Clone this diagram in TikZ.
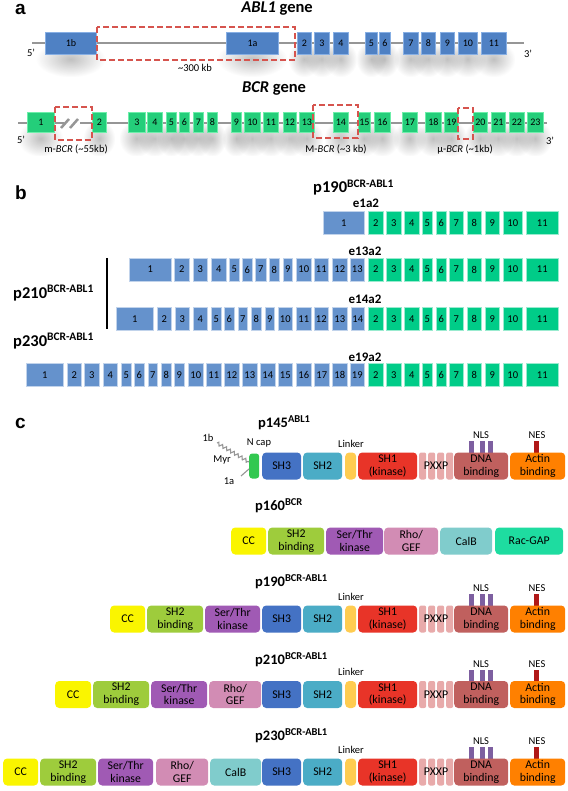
\documentclass[tikz,border=0pt]{standalone}
\usepackage{fontspec}
\setmainfont{Carlito}
\newfontfamily\arialf{Liberation Sans}
\usetikzlibrary{decorations.pathmorphing,fadings}
\tikzfading[name=softblob, inner color=transparent!0, outer color=transparent!100]
\definecolor{exblue}{RGB}{79,129,196}
\definecolor{exblueL}{RGB}{135,175,228}
\definecolor{exgreen}{RGB}{36,206,122}
\definecolor{exgreenL}{RGB}{110,238,170}
\definecolor{bblue}{RGB}{101,146,204}
\definecolor{bgreen}{RGB}{0,204,136}
\definecolor{dashred}{RGB}{214,84,78}
\definecolor{linegray}{RGB}{150,150,150}
\definecolor{ccc}{RGB}{250,245,0}
\definecolor{csh2b}{RGB}{158,204,60}
\definecolor{cser}{RGB}{160,90,180}
\definecolor{crho}{RGB}{210,140,180}
\definecolor{ccalb}{RGB}{128,204,204}
\definecolor{crac}{RGB}{30,220,160}
\definecolor{csh3}{RGB}{68,114,196}
\definecolor{csh2}{RGB}{75,172,198}
\definecolor{clink}{RGB}{255,204,80}
\definecolor{csh1}{RGB}{232,52,40}
\definecolor{cpxxp}{RGB}{232,170,170}
\definecolor{cdna}{RGB}{192,96,94}
\definecolor{cactin}{RGB}{255,128,0}
\definecolor{cnls}{RGB}{125,95,160}
\definecolor{cnes}{RGB}{176,24,24}
\definecolor{cncap}{RGB}{50,200,80}
\newcommand\fs[1]{\fontsize{#1}{#1}\selectfont}
\newcommand\pname[5]{{\fs{#3}#1}\raisebox{#5}{\fs{#4}#2}}
\newcommand\ex[6]{\pgfmathsetmacro\exw{#4-#3}\node[#1, minimum width=\exw pt] (#2) at (#3,#5) {#6};}
\newcommand\gshad[3]{%
 \fill[black!70, opacity=0.35, path fading=softblob] (#1-9,#3-2) rectangle (#2+9,#3+34);}
\newcommand\dm[6]{\pgfmathsetmacro\dmw{#3-#2}\node[dom, fill=#5, minimum width=\dmw pt] (#1) at (#2,#4) {#6};}
\newcommand\bgreenrow[2]{\foreach \n/\a/\b in {2/368/383,3/386/401,4/404/419,5/422/432,6/436/446,7/449/463,8/467/481,9/485/499,10/503/522,11/526/558}{\ex{bexg}{#1g\n}{\a}{\b}{#2}{\n}}}
\newcommand\ablpart[2]{%
 \fill[cnls] (469,#2-25) rectangle (474,#2-12);
 \fill[cnls] (480,#2-25) rectangle (485,#2-12);
 \fill[cnls] (487.5,#2-25) rectangle (492.5,#2-12);
 \fill[cnes] (534.3,#2-25) rectangle (539.3,#2-12);
 \dm{#1sh3}{262}{301}{#2}{csh3}{SH3}
 \dm{#1sh2}{303}{342}{#2}{csh2}{SH2}
 \dm{#1lnk}{345}{356}{#2}{clink}{}
 \dm{#1sh1}{358}{417}{#2}{csh1}{SH1\\(kinase)}
 \node[dom, rounded corners=2pt, fill=cpxxp, minimum width=7pt] (#1pa) at (419,#2) {};
 \node[dom, rounded corners=2pt, fill=cpxxp, minimum width=7pt] (#1pb) at (428,#2) {};
 \node[dom, rounded corners=2pt, fill=cpxxp, minimum width=7pt] (#1pc) at (437,#2) {};
 \node[dom, rounded corners=2pt, fill=cpxxp, minimum width=7pt] (#1pd) at (446,#2) {};
 \node[dtext] (#1pxxp) at (436,#2) {PXXP};
 \dm{#1dna}{454}{508}{#2}{cdna}{DNA\\binding}
 \dm{#1act}{510}{565}{#2}{cactin}{Actin\\binding}
 \node[dlabel] (#1lbllinker) at (351,#2-22.5) {Linker};
 \node[dlabel] (#1lblnls) at (481,#2-30.5) {NLS};
 \node[dlabel] (#1lblnes) at (537,#2-30.5) {NES};
}
\tikzset{
 panel/.style={font=\arialf\bfseries\fs{19}, anchor=base west, inner sep=0},
 gtitle/.style={font=\bfseries\fs{16.5}, anchor=base, inner sep=0},
 gline/.style={draw=linegray, line width=2.8pt},
 gexa/.style={draw=exblueL, line width=0.9pt, fill=exblue, inner sep=0pt, minimum height=22pt, anchor=west, font=\fs{10}},
 gexb/.style={draw=exgreenL, line width=0.9pt, fill=exgreen, inner sep=0pt, minimum height=20pt, anchor=west, font=\fs{10}},
 redbox/.style={draw=dashred, line width=2.2pt, dash pattern=on 6pt off 3pt},
 small/.style={font=\fs{10.5}, inner sep=0, anchor=base},
 prot/.style={font=\bfseries, anchor=base west, inner sep=0},
 bex/.style={fill=bblue, draw=white!60!bblue, line width=0.5pt, inner sep=0, minimum height=23pt, anchor=west, font=\fs{10.5}},
 bexg/.style={bex, fill=bgreen, draw=white!60!bgreen},
 junc/.style={font=\bfseries\fs{13}, anchor=base, inner sep=0},
 dom/.style={rounded corners=4pt, inner sep=0, minimum height=27pt, anchor=west, align=center, font=\fontsize{11.8}{12.8}\selectfont},
 dtext/.style={inner sep=0, font=\fs{11.8}},
 dlabel/.style={font=\fs{10.5}, inner sep=0},
}
\begin{document}
\begin{tikzpicture}[x=1pt,y=-1pt]
\useasboundingbox (0,0) rectangle (567,791);
\fill[white] (0,0) rectangle (567,791);
% ---------------- panel a
\node[panel] (pa) at (15,15) {a};
\node[gtitle] (abltitle) at (277,12.5) {\textit{ABL1} gene};
\foreach \a/\b in {45/96,226/278,297/311,314/329,333/348,365/377,379/390,403/418,421/435,440/454,458/477,481/506}{\gshad{\a}{\b}{43}}
\foreach \a/\b in {27/54,92/106,128/145,147/162,166/176,179/189,193/203,207/217,231/241,244/260,263/278,283/296,299/314,333/348,358/370,374/390,402/417,425/441,444/458,473/487,491/505,509/524,527/543}{\gshad{\a}{\b}{122.5}}
\coordinate (ablL) at (32,43);
\coordinate (ablR) at (524,43);
\draw[gline] (ablL) -- (ablR);
\foreach \n/\a/\b in {1b/45/96,1a/226/278,2/297/311,3/314/329,4/333/348,5/365/377,6/379/390,7/403/418,8/421/435,9/440/454,10/458/477,11/481/506}{\ex{gexa}{abl\n}{\a}{\b}{43}{\n}}
\draw[redbox] (97,27) rectangle (295,60);
\node[small] (abl5) at (31,57) {5'};
\node[small] (abl3) at (528,58) {3'};
\node[small] (kb300) at (195,72) {\textasciitilde300 kb};
\node[gtitle] (bcrtitle) at (274,93) {\textit{BCR} gene};
\coordinate (bcrL) at (18,123);
\coordinate (bcrR) at (547,123);
\draw[gline] (bcrL) -- (bcrR);
\foreach \n/\a/\b in {1/27/54,2/92/106,3/128/145,4/147/162,5/166/176,6/179/189,7/193/203,8/207/217,9/231/241,10/244/260,11/263/278,12/283/296,13/299/314,14/333/348,15/358/370,16/374/390,17/402/417,18/425/441,19/444/458,20/473/487,21/491/505,22/509/524,23/527/543}{\ex{gexb}{bcr\n}{\a}{\b}{122.5}{\n}}
\fill[white] (64,119) rectangle (80,127);
\draw[linegray, line width=2.5pt] (61,128) -- (69,119);
\draw[linegray, line width=2.5pt] (70,128) -- (78,119);
\draw[redbox] (55,107) rectangle (92,140);
\draw[redbox] (313,105) rectangle (358,138);
\draw[redbox] (458,108) rectangle (473,139);
\node[small] (bcr5) at (21,144) {5'};
\node[small] (bcr3) at (550,145) {3'};
\node[small] (mbcr) at (76,153) {m-\textit{BCR} (\textasciitilde55kb)};
\node[small] (Mbcr) at (336,153) {M-\textit{BCR} (\textasciitilde3 kb)};
\node[small] (mubcr) at (465,153) {μ-\textit{BCR} (\textasciitilde1kb)};
% ---------------- panel b
\node[panel] (pb) at (15,200) {b};
\node[prot] (b190) at (313,193) {\pname{p190}{BCR-ABL1}{16.5}{11.5}{5.5pt}};
\node[junc] (j1) at (366,208) {e1a2};
\foreach \n/\a/\b in {1/323/364}{\ex{bex}{r1b\n}{\a}{\b}{223}{\n}}
\bgreenrow{r1}{223}
\node[junc] (j2) at (365,255) {e13a2};
\foreach \n/\a/\b in {1/129/171,2/174/189,3/193/207,4/211/226,5/229/239,6/242/252,7/255/266,8/269/279,9/283/292,10/296/311,11/314/328,12/332/347,13/350/364}{\ex{bex}{r2b\n}{\a}{\b}{269.5}{\n}}
\bgreenrow{r2}{269.5}
\node[prot] (b210) at (13,298) {\pname{p210}{BCR-ABL1}{16.5}{11.5}{5.5pt}};
\coordinate (barT) at (107,258);
\coordinate (barB) at (107,329);
\draw[line width=2pt] (barT) -- (barB);
\node[junc] (j3) at (365,303) {e14a2};
\foreach \n/\a/\b in {1/116/153,2/157/171,3/175/189,4/193/207,5/211/221,6/224/234,7/238/247,8/251/261,9/265/274,10/278/292,11/296/311,12/314/328,13/332/347,14/351/364}{\ex{bex}{r3b\n}{\a}{\b}{318.7}{\n}}
\bgreenrow{r3}{318.7}
\node[prot] (b230) at (13,346) {\pname{p230}{BCR-ABL1}{16.5}{11.5}{5.5pt}};
\node[junc] (j4) at (365,361) {e19a2};
\foreach \n/\a/\b in {1/26/63,2/67/81,3/84/99,4/103/117,5/121/131,6/134/144,7/148/157,8/161/171,9/174/184,10/188/203,11/206/221,12/224/239,13/242/257,14/260/275,15/278/292,16/296/311,17/314/329,18/332/347,19/350/364}{\ex{bex}{r4b\n}{\a}{\b}{375}{\n}}
\bgreenrow{r4}{375}
% ---------------- panel c
\node[panel] (pc) at (15,428) {c};
% p145
\node[prot] (c145) at (258,427) {\pname{p145}{ABL1}{14.5}{10.5}{5pt}};
\ablpart{a}{466}
\node[dom, fill=cncap, minimum width=10pt, minimum height=25pt, rounded corners=3pt] (ncap) at (249,466) {};
\node[dlabel] (ncaplbl) at (259,443) {N cap};
\node[dlabel] (l1b) at (208,438) {1b};
\node[dlabel] (lmyr) at (222,460) {Myr};
\node[dlabel] (l1a) at (229,481) {1a};
\coordinate (myr0) at (217,443);
\coordinate (myr1) at (249,462);
\coordinate (a1s) at (241,476);
\coordinate (a1e) at (249,469);
\draw[linegray, line width=1.1pt, decorate, decoration={zigzag, segment length=4.5pt, amplitude=1.6pt}] (myr0) -- (myr1);
\draw[linegray, line width=1.1pt] (a1s) -- (a1e);
% p160
\node[prot] (c160) at (255,510) {\pname{p160}{BCR}{14.5}{10.5}{5pt}};
\dm{bcc}{231}{266}{541}{ccc}{CC}
\dm{bsh2b}{268}{324}{541}{csh2b}{SH2\\binding}
\dm{bser}{326}{383}{541}{cser}{Ser/Thr\\kinase}
\dm{brho}{384}{438}{541}{crho}{Rho/\\GEF}
\dm{bcalb}{440}{492}{541}{ccalb}{CalB}
\dm{brac}{495}{563}{541}{crac}{Rac-GAP}
% p190
\node[prot] (c190) at (255,586) {\pname{p190}{BCR-ABL1}{14.5}{10.5}{5pt}};
\dm{pAcc}{110}{145}{619}{ccc}{CC}
\dm{pAsh2b}{147}{203}{619}{csh2b}{SH2\\binding}
\dm{pAser}{205}{260}{619}{cser}{Ser/Thr\\kinase}
\ablpart{pA}{619}
% p210
\node[prot] (c210) at (255,664) {\pname{p210}{BCR-ABL1}{14.5}{10.5}{5pt}};
\dm{pBcc}{55}{91}{694.5}{ccc}{CC}
\dm{pBsh2b}{93}{149}{694.5}{csh2b}{SH2\\binding}
\dm{pBser}{151}{207}{694.5}{cser}{Ser/Thr\\kinase}
\dm{pBrho}{209}{261}{694.5}{crho}{Rho/\\GEF}
\ablpart{pB}{694.5}
% p230
\node[prot] (c230) at (255,740) {\pname{p230}{BCR-ABL1}{14.5}{10.5}{5pt}};
\dm{pCcc}{3}{38}{772}{ccc}{CC}
\dm{pCsh2b}{40}{96}{772}{csh2b}{SH2\\binding}
\dm{pCser}{98}{153}{772}{cser}{Ser/Thr\\kinase}
\dm{pCrho}{156}{208}{772}{crho}{Rho/\\GEF}
\dm{pCcalb}{210}{261}{772}{ccalb}{CalB}
\ablpart{pC}{772}
\end{tikzpicture}
\end{document}
